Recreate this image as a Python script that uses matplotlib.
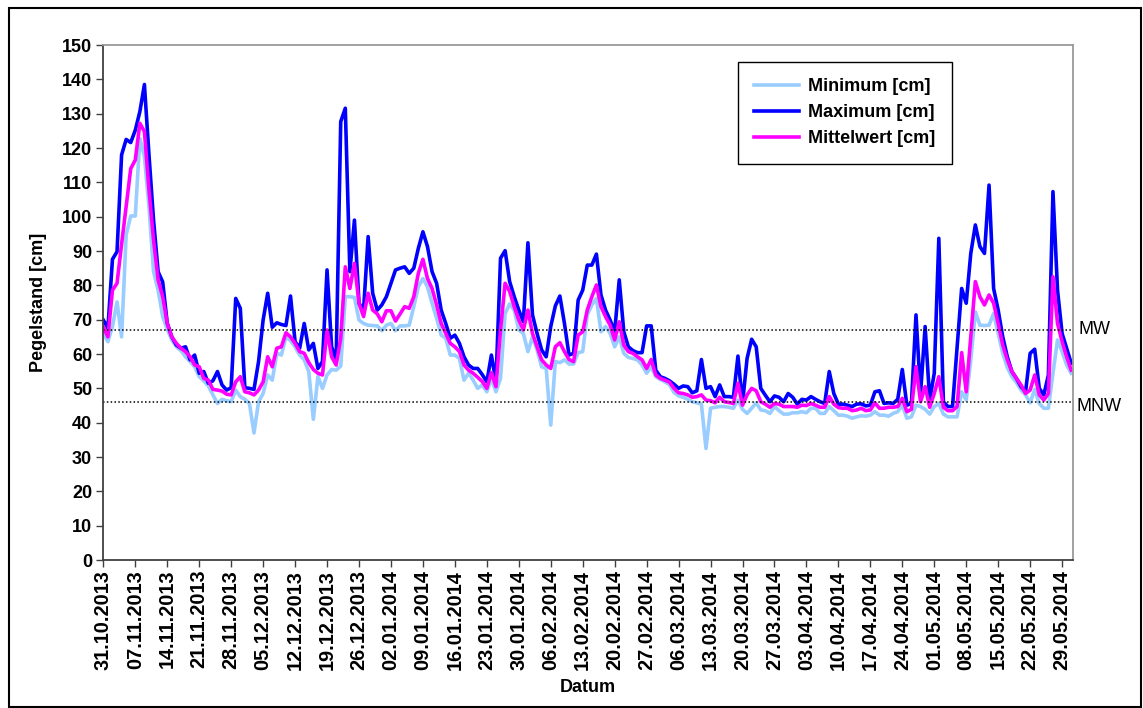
import pandas as pd
import matplotlib.pyplot as plt

plt.rcParams['font.family'] = ['Liberation Sans', 'DejaVu Sans']
plt.rcParams['font.size'] = 13
plt.rcParams['font.weight'] = 'bold'

# daily values 31.10.2013 - 31.05.2014
minimum = [
    66, 63.6, 68, 75.2, 65, 94.7, 100.2, 100.2, 122.8, 117.5,
    102.9, 84, 78.6, 70.9, 67.2, 64.1, 62.1, 61, 59.2, 57.8,
    56.3, 53.4, 52.2, 50.7, 48.1, 45.6, 46.8, 46.4, 46.1, 49.5,
    47.6, 46.8, 45.6, 37, 46.1, 48.5, 53.9, 52.4, 60.2, 59.7,
    65, 63.9, 62.1, 59.7, 58.3, 54.9, 41, 53.4, 50, 53.9,
    55.5, 55.3, 56.5, 76.7, 76.7, 76.5, 69.9, 68.9, 68.4, 68.3,
    68.2, 66.8, 68.4, 68.9, 66.8, 68.2, 68.2, 68.4, 73.8, 79.6,
    82, 79.6, 74.8, 70.4, 65.5, 64.6, 59.7, 59.7, 58.7, 52.4,
    54.4, 52.4, 50, 51, 49, 52.9, 49, 52.9, 71.8, 74.6,
    72.8, 67, 66, 60.7, 65, 61.2, 56.3, 55.8, 39.3, 57.8,
    57.5, 58.3, 57.1, 57.1, 60.4, 60.7, 71.4, 74.3, 76.2, 66.5,
    68, 66, 62.1, 65, 60.2, 59, 58.7, 58.3, 56.8, 54.4,
    56.3, 53.4, 52.6, 51.9, 51.1, 48.8, 47.8, 47.4, 46.8, 46.1,
    45.8, 45.4, 32.5, 44.2, 44.5, 44.7, 44.7, 44.5, 44.2, 46.6,
    43.9, 42.7, 44.2, 45.8, 43.7, 43.5, 42.7, 44.7, 43.5, 42.5,
    42.5, 42.9, 42.9, 43.2, 42.9, 44.2, 44.2, 42.7, 42.7, 44.7,
    43.5, 42.2, 42.2, 41.9, 41.3, 41.7, 42, 41.9, 42.2, 43.2,
    42.2, 42.2, 41.9, 42.7, 43.2, 45.1, 41.3, 41.7, 45.1, 44.7,
    43.9, 42.5, 44.7, 45.6, 42.5, 41.7, 41.7, 41.7, 49, 46.6,
    58.3, 72.3, 68.4, 68.3, 68.4, 71.8, 66, 60.2, 56.1, 53.4,
    51.7, 49.5, 48.1, 45.8, 49.7, 45.6, 44.2, 44.2, 54.4, 64.1,
    60.7, 56.8, 54.4,
]

maximum = [
    69.9, 67.5, 87.6, 89.8, 118, 122.5, 121.6, 125.2, 130.6, 138.5,
    118, 99, 84, 81, 69, 65, 62.6, 61.7, 62.1, 58.3,
    59.7, 54.4, 54.9, 51.5, 52.2, 54.9, 51, 49.5, 50.2, 76.2,
    73.3, 50.2, 50, 49.7, 57.8, 69.9, 77.7, 67.8, 69.1, 68.6,
    68.3, 76.9, 63.6, 61.7, 68.9, 61.2, 63.1, 55.8, 57.8, 84.5,
    62.1, 58.3, 127.7, 131.6, 84, 99, 74.8, 72.8, 94.2, 77.7,
    72.8, 74.3, 76.7, 80.6, 84.5, 85, 85.4, 83.5, 85, 90.8,
    95.6, 91.3, 84, 80.6, 72.8, 68.9, 64.6, 65.5, 63.1, 59.2,
    56.8, 55.8, 55.8, 54, 51.9, 59.7, 51.9, 87.9, 90.1, 81.1,
    76.7, 72.8, 69.4, 92.4, 71.4, 66, 61.2, 59.2, 68, 74,
    76.9, 68.9, 59.7, 60.2, 75.7, 78.6, 85.9, 85.9, 89.1, 77.2,
    72.8, 69.9, 66.5, 81.6, 66.5, 62.1, 61, 60.4, 60.4, 68.2,
    68.2, 55.3, 53.4, 52.9, 52.2, 51.2, 50, 50.7, 50.5, 48.7,
    49.3, 58.4, 50, 50.5, 47.6, 51, 47.6, 47.6, 47.4, 59.4,
    45.6, 58.7, 64.3, 62.1, 50, 48, 46.1, 47.8, 47.4, 46.1,
    48.5, 47.4, 45.4, 46.8, 46.6, 47.6, 46.8, 46.1, 45.6, 54.9,
    48.5, 45.4, 45.4, 45.1, 44.7, 45.4, 45.5, 44.9, 45.1, 49,
    49.3, 45.6, 45.8, 45.6, 46.8, 55.5, 45.1, 45.6, 71.4, 48.5,
    68, 46.6, 54.4, 93.7, 46.1, 44.7, 44.7, 62.1, 79.1, 74.8,
    89.3, 97.6, 91.3, 89.3, 109.2, 79.1, 72.8, 65, 59.2, 54.9,
    52.9, 50.5, 49, 60.2, 61.4, 50, 48.1, 53.9, 107.3, 78.6,
    66, 61.7, 57.3,
]

mittelwert = [
    67.8, 65, 78.6, 80.6, 92, 103, 114, 116.5, 127.2, 124.8,
    107.8, 93.2, 81.6, 76.7, 68.9, 65, 63.1, 61.7, 60.7, 59.2,
    56.8, 56.3, 52.9, 52.4, 49.7, 49.5, 49.2, 48.3, 48.1, 51.9,
    53.4, 49, 48.7, 48.1, 49.5, 51.9, 59.2, 56.3, 61.7, 62.1,
    66.2, 65, 63.1, 60.7, 60.2, 57.5, 55.5, 54.4, 53.9, 67,
    59.2, 56.8, 64.6, 85.4, 79.1, 86.4, 74.8, 70.9, 77.7, 72.8,
    71.7, 69.4, 72.6, 72.6, 69.6, 71.7, 73.8, 73.3, 76.7, 83.5,
    87.6, 82, 79.1, 74.3, 68.9, 66, 63.1, 62.1, 60.7, 56.8,
    55.3, 54.4, 53.2, 52, 50, 54.6, 50.5, 67, 80.6, 78.2,
    73.8, 69.9, 67, 72.8, 66, 62.1, 58.3, 56.8, 55.8, 62.1,
    63.3, 60.7, 58.4, 57.8, 65.5, 66.5, 72.8, 76.7, 80.1, 73.8,
    70.9, 68.4, 64.1, 69.4, 62.6, 60.7, 60.2, 59.2, 58.3, 55.8,
    58.4, 53.9, 52.9, 52.4, 51.8, 50, 48.7, 48.5, 48.1, 47.4,
    47.6, 48.1, 46.6, 46.4, 45.8, 47.4, 46.1, 45.9, 45.6, 51.5,
    45.1, 48.1, 50, 49.3, 46.1, 45.4, 44.5, 45.6, 45.4, 44.7,
    44.7, 44.7, 44.5, 45.1, 45, 45.6, 45.1, 44.5, 44.5, 47.6,
    45.4, 44.4, 44.2, 44.2, 43.5, 43.7, 44.2, 43.5, 43.7, 45.8,
    44.2, 44.2, 44.5, 44.5, 44.7, 47.1, 43.2, 43.9, 56.3, 46.1,
    50.5, 44.5, 48.5, 53.4, 44.5, 43.5, 43.5, 44.7, 60.4, 49,
    65, 81.1, 76.7, 74.3, 77.2, 74.8, 68.9, 62.6, 58.3, 54.9,
    52.9, 51, 48.5, 49.5, 53.9, 48.1, 46.6, 48.5, 82.5, 68.9,
    63.6, 59.2, 55.3,
]

mw = 67
mnw = 46

dates = pd.date_range('2013-10-31', periods=len(maximum), freq='D')
days = list(range(len(dates)))

fig = plt.figure(figsize=(11.43, 7.08), dpi=100)
ax = fig.add_axes([0.0904, 0.2090, 0.8484, 0.7274])

ax.plot(days, minimum, color='#99ccff', lw=2.6, label='Minimum [cm]')
ax.plot(days, maximum, color='#0000ff', lw=2.6, label='Maximum [cm]')
ax.plot(days, mittelwert, color='#ff00ff', lw=2.6, label='Mittelwert [cm]')

ax.axhline(mw, color='black', ls=(0, (1, 1.5)), lw=1.1)
ax.axhline(mnw, color='black', ls=(0, (1, 1.5)), lw=1.1)
ax.text(1.006, mw, 'MW', transform=ax.get_yaxis_transform(), va='center',
        ha='left', fontweight='normal')
ax.text(1.004, mnw - 1.2, 'MNW', transform=ax.get_yaxis_transform(), va='center',
        ha='left', fontweight='normal')

ax.set_xlim(0, 212.4)
ax.set_ylim(0, 150)
ax.set_yticks(range(0, 151, 10))
ticks = days[::7]
ax.set_xticks(ticks)
ax.set_xticklabels([dates[i].strftime('%d.%m.%Y') for i in ticks], rotation=90)
ax.tick_params(direction='out', length=5, width=1, color='#404040', pad=3)
ax.tick_params(axis='x', labelsize=14.3, pad=2)

for side in ['left', 'bottom']:
    ax.spines[side].set_color('#404040')
    ax.spines[side].set_linewidth(1.3)
for side in ['top', 'right']:
    ax.spines[side].set_color('#9a9a9a')
    ax.spines[side].set_linewidth(1.3)

ax.set_ylabel('Pegelstand [cm]', fontweight='bold')
ax.yaxis.set_label_coords(-0.058, 0.5)
ax.set_xlabel('Datum', fontweight='bold')
ax.xaxis.set_label_coords(0.5, -0.231)

leg = ax.legend(loc='upper left', bbox_to_anchor=(0.6457, 0.9124),
                bbox_transform=fig.transFigure, frameon=True, fancybox=False,
                edgecolor='black', framealpha=1, borderpad=0.9,
                handlelength=2.5, handletextpad=0.5, labelspacing=0.5,
                borderaxespad=0)
leg.get_frame().set_linewidth(1)

# outer frame of the chart area
fig.patches.append(plt.Rectangle((0.008, 0.002), 0.99, 0.986, transform=fig.transFigure,
                                 fill=False, edgecolor='black', lw=1.5))

plt.savefig('out.png', dpi=100)
